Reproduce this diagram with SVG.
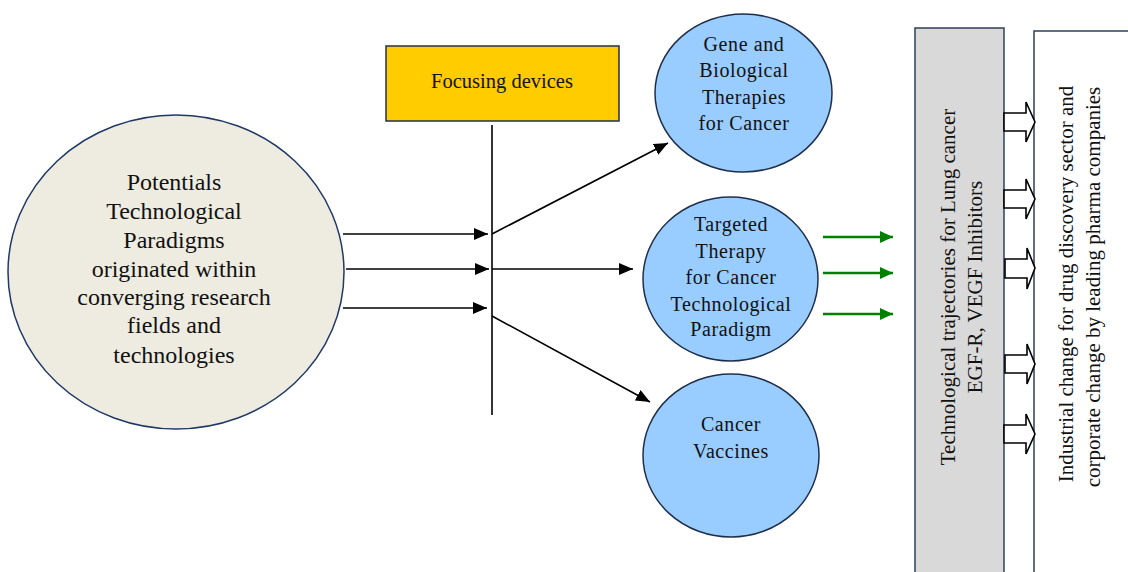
<svg xmlns="http://www.w3.org/2000/svg" width="1128" height="572" viewBox="0 0 1128 572">
<defs>
<style>
text{font-family:"Liberation Serif","Times New Roman",serif;fill:#111;text-anchor:middle}
.big{font-size:24px}
.c{font-size:20px;letter-spacing:0.6px}
.v{font-size:21px}
.ln{stroke:#000;stroke-width:1.6;fill:none}
.gr{stroke:#008000;stroke-width:2.6;fill:none}
.blk{fill:#fff;stroke:#000;stroke-width:1.6}
.circ{fill:#99ccff;stroke:#1f2f4a;stroke-width:1.5}
</style>
<marker id="ahk" viewBox="0 0 10 10" refX="10" refY="5" markerWidth="14" markerHeight="12" markerUnits="userSpaceOnUse" orient="auto" preserveAspectRatio="none">
<path d="M0,0 L10,5 L0,10 z" fill="#000"/>
</marker>
<marker id="ahg" viewBox="0 0 10 10" refX="10" refY="5" markerWidth="13" markerHeight="12" markerUnits="userSpaceOnUse" orient="auto" preserveAspectRatio="none">
<path d="M0,0 L10,5 L0,10 z" fill="#008000"/>
</marker>
</defs>
<rect width="1128" height="572" fill="#fff"/>

<g id="potentials">
<ellipse cx="176" cy="272" rx="168" ry="157" fill="#eeece1" stroke="#1f3864" stroke-width="1.5"/>
<text class="big" x="174" y="190">Potentials</text>
<text class="big" x="174" y="219">Technological</text>
<text class="big" x="174" y="248">Paradigms</text>
<text class="big" x="174" y="277">originated within</text>
<text class="big" x="174" y="305">converging research</text>
<text class="big" x="174" y="333">fields and</text>
<text class="big" x="174" y="363">technologies</text>
</g>

<g id="focusing">
<rect x="386" y="46" width="233" height="75" fill="#ffcc00" stroke="#1f3050" stroke-width="1.5"/>
<text x="502" y="88" style="font-size:20.5px">Focusing devices</text>
</g>

<g id="gene">
<ellipse cx="743.5" cy="93" rx="88.5" ry="79" class="circ"/>
<text class="c" x="744" y="51">Gene and</text>
<text class="c" x="744" y="77">Biological</text>
<text class="c" x="744" y="104">Therapies</text>
<text class="c" x="744" y="130">for Cancer</text>
</g>

<g id="targeted">
<ellipse cx="730.5" cy="279" rx="87.5" ry="82" class="circ"/>
<text class="c" x="731" y="231">Targeted</text>
<text class="c" x="731" y="258">Therapy</text>
<text class="c" x="731" y="284">for Cancer</text>
<text class="c" x="731" y="311">Technological</text>
<text class="c" x="731" y="336">Paradigm</text>
</g>

<g id="vaccines">
<ellipse cx="731" cy="455.5" rx="88" ry="81.5" class="circ"/>
<text class="c" x="731" y="431">Cancer</text>
<text class="c" x="731" y="458">Vaccines</text>
</g>

<g id="trajectories">
<rect x="915" y="28" width="89" height="560" fill="#d9d9d9" stroke="#2f3f5a" stroke-width="1.5"/>
<text class="v" transform="translate(955,287) rotate(-90)">Technological trajectories for Lung cancer</text>
<text class="v" transform="translate(982,287) rotate(-90)">EGF-R, VEGF Inhibitors</text>
</g>

<g id="industrial">
<rect x="1034" y="31" width="110" height="560" fill="#fff" stroke="#2f3f5a" stroke-width="1.5"/>
<text class="v" transform="translate(1073,284) rotate(-90)">Industrial change for drug discovery sector and</text>
<text class="v" transform="translate(1100,287) rotate(-90)">corporate change by leading pharma companies</text>
</g>

<g id="connectors">
<line class="ln" x1="492" y1="125" x2="492" y2="415"/>
<line class="ln" x1="343" y1="234" x2="488" y2="234" marker-end="url(#ahk)"/>
<line class="ln" x1="346" y1="269" x2="489" y2="269" marker-end="url(#ahk)"/>
<line class="ln" x1="343" y1="308" x2="487" y2="308" marker-end="url(#ahk)"/>
<line class="ln" x1="492" y1="234" x2="668" y2="143" marker-end="url(#ahk)"/>
<line class="ln" x1="492" y1="269" x2="633" y2="269" marker-end="url(#ahk)"/>
<line class="ln" x1="492" y1="316" x2="650" y2="402" marker-end="url(#ahk)"/>
<line class="gr" x1="823" y1="237" x2="893" y2="237" marker-end="url(#ahg)"/>
<line class="gr" x1="823" y1="273" x2="893" y2="273" marker-end="url(#ahg)"/>
<line class="gr" x1="823" y1="314" x2="893" y2="314" marker-end="url(#ahg)"/>
<path class="blk" d="M1004,113 H1026 V102 L1035,122 L1026,142 V131 H1004 Z"/>
<path class="blk" d="M1004,190 H1026 V179 L1035,199 L1026,219 V208 H1004 Z"/>
<path class="blk" d="M1005,259 H1027 V248 L1035,268 L1027,289 V278 H1005 Z"/>
<path class="blk" d="M1005,355 H1027 V344 L1035,364 L1027,384 V373 H1005 Z"/>
<path class="blk" d="M1004,425 H1026 V414 L1035,434 L1026,454 V443 H1004 Z"/>
</g>
</svg>
